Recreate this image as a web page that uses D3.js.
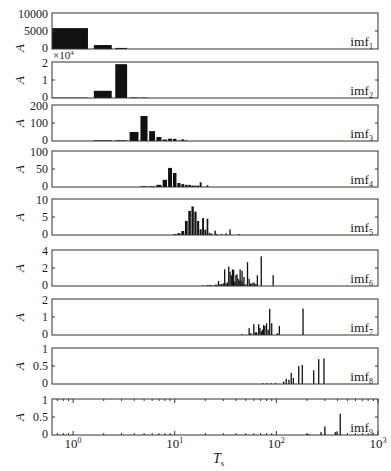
<!DOCTYPE html>
<html>
<head>
<meta charset="utf-8">
<script src="https://cdn.jsdelivr.net/npm/d3@7"></script>
<style>
body { margin: 0; background: #fff; }
text { font-family: "Liberation Serif", "Times New Roman", serif; fill: #1a1a1a; }
</style>
</head>
<body>
<div id="chart"></div>
<script>
// periods (T) and amplitudes (A)
var imf1 = [[1,5800],[2,1100],[3,300]];
var imf2 = [[1,0.02],[2,0.4],[3,1.88],[4,0.03],[5,0.02]]; // x 10^4
var imf3 = [[2,4],[3,4],[4,50],[5,139],[6,55],[7,22],[8,8],[9,13],[10,12],[11,3],[12,9],[13,3]];
var imf4 = [[5,2],[6,2],[7,6],[8,20],[9,53],[10,39],[11,11],[12,8],[13,6],[14,6],[15,4],[16,4],[17,4],[18,13],[21,5]];
var imf5 = [[10,0.2],[11,0.5],[12,1.1],[13,3.9],[14,6.7],[15,7.9],[16,6.5],[17,3.9],[18,1.6],[19,4.7],[20,1.5],[21,4.5],
            [22,0.6],[23,0.4],[25,1.2],[26,0.3],[29,0.3],[32,0.5],[35,1.6],[43,0.3]];
var imf6 = [[19,0.05],[21,0.1],[22,0.1],[23,0.1],[25,0.15],[26,0.15],[27,0.55],[28,0.2],[29,0.2],[30,0.3],[31,1.85],
            [32,0.3],[33,0.4],[34,2.15],[35,1.6],[36,1.2],[37,1.85],[38,1.8],[39,0.5],[40,1.2],[41,1.3],[42,0.8],
            [43,0.6],[44,1.85],[45,0.6],[46,1.7],[47,0.3],[48,1.0],[50,0.2],[52,2.65],[54,0.8],[56,0.3],[57,0.2],
            [59,0.4],[61,0.3],[63,0.2],[65,1.2],[71,3.3],[93,1.2]];
var imf7 = [[46,0.05],[54,0.38],[56,0.1],[60,0.6],[62,0.15],[64,0.15],[67,0.6],[69,0.4],[71,0.2],[73,0.3],[75,0.55],
            [77,0.5],[80,0.65],[83,0.3],[86,1.45],[90,0.65],[102,0.1],[107,0.5],[183,1.47]];
var imf8 = [[74,0.02],[81,0.02],[89,0.02],[98,0.03],[118,0.07],[125,0.14],[133,0.12],[140,0.31],[147,0.17],
            [166,0.5],[180,0.53],[233,0.38],[261,0.69],[294,0.71]];
var imf9 = [[200,0.03],[210,0.03],[275,0.08],[300,0.24],[380,0.08],[395,0.1],[425,0.59]];

var series = [imf1, imf2, imf3, imf4, imf5, imf6, imf7, imf8, imf9];
var yMax = [10000, 2, 200, 100, 10, 4, 2, 1, 1];
var yTickLabels = [["0","5000","10000"],["0","1","2"],["0","100","200"],["0","50","100"],["0","5","10"],
                   ["0","2","4"],["0","1","2"],["0","0.5","1"],["0","0.5","1"]];

var width = 391, height = 471;
var left = 52, right = 378, panelH = 36;
var tops = [13, 62, 105, 151, 199, 250, 299, 348, 399];

var svg = d3.select("#chart")
    .append("svg")
    .attr("width", width)
    .attr("height", height);

var x = d3.scaleLog()
    .domain([0.62, 1000])
    .range([left, right]);

series.forEach(function(data, i) {
    var top = tops[i];
    var y = d3.scaleLinear()
        .domain([0, yMax[i]])
        .range([top + panelH, top]);

    var g = svg.append("g");

    g.append("clipPath")
        .attr("id", "clip" + i)
        .append("rect")
        .attr("x", left)
        .attr("y", top)
        .attr("width", right - left)
        .attr("height", panelH);

    // bars of width 0.8 (linear units) on the log axis
    g.append("g")
        .attr("clip-path", "url(#clip" + i + ")")
        .selectAll("rect")
        .data(data)
        .enter()
        .append("rect")
        .attr("x", function(d) {
            var w = x(d[0] + 0.4) - x(d[0] - 0.4);
            return w < 1.3 ? x(d[0]) - 0.65 : x(d[0] - 0.4);
        })
        .attr("width", function(d) {
            return Math.max(x(d[0] + 0.4) - x(d[0] - 0.4), 1.3);
        })
        .attr("y", function(d) { return y(d[1]); })
        .attr("height", function(d) { return y(0) - y(d[1]); })
        .style("fill", "#111");

    // frame
    g.append("rect")
        .attr("x", left)
        .attr("y", top)
        .attr("width", right - left)
        .attr("height", panelH)
        .style("fill", "none")
        .style("stroke", "#333")
        .style("stroke-width", 1);

    // y ticks (inside, both sides) and labels
    var ticks = [0, yMax[i] / 2, yMax[i]];
    var nudge = [-1, 0, 1];
    g.selectAll(".yl")
        .data(ticks)
        .enter()
        .append("text")
        .attr("x", left - 4)
        .attr("y", function(d, j) { return y(d) + nudge[j]; })
        .attr("dy", "0.35em")
        .attr("text-anchor", "end")
        .attr("font-size", "12px")
        .text(function(d, j) { return yTickLabels[i][j]; });

    g.append("line")
        .attr("x1", left).attr("x2", left + 3)
        .attr("y1", y(yMax[i] / 2)).attr("y2", y(yMax[i] / 2))
        .style("stroke", "#333");
    g.append("line")
        .attr("x1", right - 3).attr("x2", right)
        .attr("y1", y(yMax[i] / 2)).attr("y2", y(yMax[i] / 2))
        .style("stroke", "#333");

    // y label
    var ay = i === 0 ? top + panelH - 1 : top + panelH / 2;
    g.append("text")
        .attr("transform", "translate(24," + ay + ") rotate(-90)")
        .attr("text-anchor", "middle")
        .attr("font-size", "13px")
        .attr("font-style", "italic")
        .text("A");

    // imf label
    var lab = g.append("text")
        .attr("x", right - 5)
        .attr("y", top + panelH - 3)
        .attr("text-anchor", "end")
        .attr("font-size", "13.5px");
    lab.append("tspan").text("imf");
    lab.append("tspan")
        .attr("font-size", "8px")
        .attr("dy", "3")
        .text(i + 1);
});

// x10^4 multiplier for imf2
var mult = svg.append("text")
    .attr("x", left + 1)
    .attr("y", tops[1] - 3)
    .attr("font-size", "11px");
mult.append("tspan").text("\u00d710");
mult.append("tspan").attr("font-size", "7px").attr("dy", "-4").text("4");

// log ticks on the bottom panel (top and bottom edges, inside)
var bTop = tops[8], bBot = tops[8] + panelH;
var minor = [];
[0.1, 1, 10, 100].forEach(function(p) {
    for (var k = 1; k <= 9; k++) {
        var v = k * p;
        if (v >= 0.62 && v <= 1000) minor.push(v);
    }
});
minor.push(1000);
var tg = svg.append("g");
minor.forEach(function(v) {
    var major = Math.abs(Math.log10(v) - Math.round(Math.log10(v))) < 1e-9;
    var len = major ? 4 : 2;
    tg.append("line")
        .attr("x1", x(v)).attr("x2", x(v))
        .attr("y1", bBot).attr("y2", bBot - len)
        .style("stroke", "#333");
    tg.append("line")
        .attr("x1", x(v)).attr("x2", x(v))
        .attr("y1", bTop).attr("y2", bTop + len)
        .style("stroke", "#333");
});

// x tick labels 10^k
[0, 1, 2, 3].forEach(function(k) {
    var t = svg.append("text")
        .attr("x", x(Math.pow(10, k)))
        .attr("y", bBot + 13)
        .attr("text-anchor", "middle")
        .attr("font-size", "13px");
    t.append("tspan").text("10");
    t.append("tspan").attr("font-size", "8px").attr("dy", "-5").text(k);
});

// x axis title
var xt = svg.append("text")
    .attr("x", 213)
    .attr("y", 463)
    .attr("font-size", "14px");
xt.append("tspan").attr("font-style", "italic").text("T");
xt.append("tspan").attr("font-size", "9px").attr("dy", "3").text("s");
</script>
</body>
</html>
